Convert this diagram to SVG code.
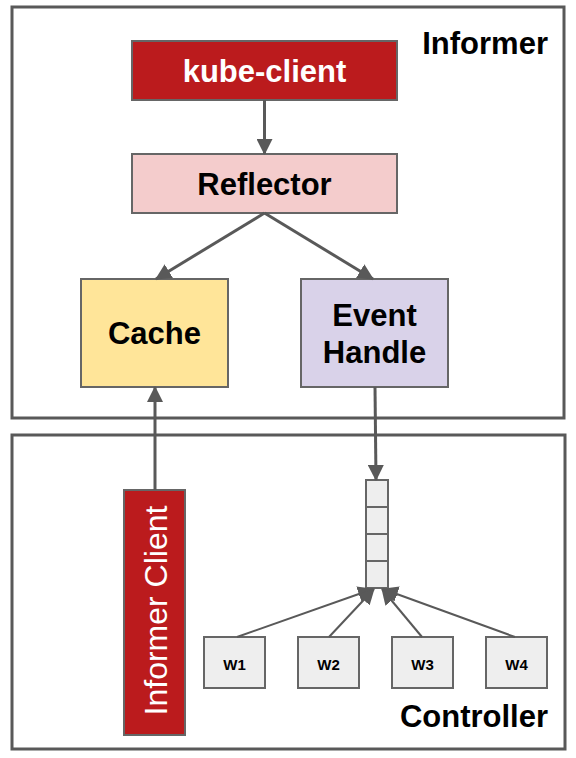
<svg xmlns="http://www.w3.org/2000/svg" width="576" height="758" viewBox="0 0 576 758">
<style>
.frame{fill:#ffffff;stroke:#595959;stroke-width:3}
.box{stroke:#666666;stroke-width:2}
.t{font-family:"Liberation Sans",Arial,sans-serif;font-weight:bold;fill:#000;text-anchor:middle}
.big{font-size:31px}
.small{font-size:15px}
.conn{stroke:#595959;stroke-width:3;fill:none}
.thin{stroke:#595959;stroke-width:2;fill:none}
</style>
<defs>
<marker id="ah" markerUnits="userSpaceOnUse" markerWidth="16" markerHeight="16" refX="15" refY="8" orient="auto">
<path d="M0,0 L16,8 L0,16 z" fill="#595959"/>
</marker>
<marker id="ahs" markerUnits="userSpaceOnUse" markerWidth="16" markerHeight="16" refX="15" refY="8" orient="auto">
<path d="M0,0 L16,8 L0,16 z" fill="#595959"/>
</marker>
</defs>
<g id="informer">
<rect class="frame" x="12" y="7" width="552" height="411"/>
<text class="t big" x="548" y="54" style="text-anchor:end">Informer</text>
</g>
<g id="controller">
<rect class="frame" x="12" y="435" width="553" height="314"/>
<text class="t big" x="548" y="727" style="text-anchor:end">Controller</text>
</g>
<g id="kube-client">
<rect class="box" x="132" y="41" width="265" height="59" fill="#bb1b1d"/>
<text class="t big" x="264.5" y="82" style="fill:#ffffff">kube-client</text>
</g>
<g id="reflector">
<rect class="box" x="132" y="154" width="265" height="59" fill="#f4cccc"/>
<text class="t big" x="264.5" y="195">Reflector</text>
</g>
<g id="cache">
<rect class="box" x="81" y="279" width="147" height="108" fill="#ffe599"/>
<text class="t big" x="154.5" y="344">Cache</text>
</g>
<g id="event-handle">
<rect class="box" x="301" y="279" width="147" height="108" fill="#d9d2e9"/>
<text class="t big" x="374.5" y="326">Event</text>
<text class="t big" x="374.5" y="363">Handle</text>
</g>
<g id="informer-client">
<rect class="box" x="124" y="490" width="61" height="245" fill="#bb1b1d"/>
<text x="0" y="0" transform="translate(166.5,610.5) rotate(-90)" style="font-family:'Liberation Sans',Arial,sans-serif;font-size:32px;fill:#ffffff;text-anchor:middle">Informer Client</text>
</g>
<g id="queue">
<rect class="box" x="366" y="480" width="22" height="27" fill="#eeeeee"/>
<rect class="box" x="366" y="507" width="22" height="27" fill="#eeeeee"/>
<rect class="box" x="366" y="534" width="22" height="27" fill="#eeeeee"/>
<rect class="box" x="366" y="561" width="22" height="27" fill="#eeeeee"/>
</g>
<g id="w1">
<rect class="box" x="204" y="637" width="61" height="51" fill="#eeeeee"/>
<text class="t small" x="234.5" y="670">W1</text>
</g>
<g id="w2">
<rect class="box" x="298" y="637" width="61" height="51" fill="#eeeeee"/>
<text class="t small" x="328.5" y="670">W2</text>
</g>
<g id="w3">
<rect class="box" x="392" y="637" width="61" height="51" fill="#eeeeee"/>
<text class="t small" x="422.5" y="670">W3</text>
</g>
<g id="w4">
<rect class="box" x="486" y="637" width="61" height="51" fill="#eeeeee"/>
<text class="t small" x="516.5" y="670">W4</text>
</g>
<g id="connectors">
<line class="conn" x1="264.5" y1="100" x2="264.5" y2="154" marker-end="url(#ah)"/>
<line class="conn" x1="264.5" y1="213" x2="156" y2="279" marker-end="url(#ah)"/>
<line class="conn" x1="264.5" y1="213" x2="373" y2="279" marker-end="url(#ah)"/>
<line class="conn" x1="155" y1="490" x2="155" y2="387" marker-end="url(#ah)"/>
<line class="conn" x1="375" y1="387" x2="376" y2="480" marker-end="url(#ah)"/>
<line class="thin" x1="237" y1="637" x2="373" y2="589" marker-end="url(#ahs)"/>
<line class="thin" x1="329" y1="637" x2="374" y2="589" marker-end="url(#ahs)"/>
<line class="thin" x1="422" y1="637" x2="382" y2="589" marker-end="url(#ahs)"/>
<line class="thin" x1="515" y1="637" x2="383" y2="589" marker-end="url(#ahs)"/>
</g>
</svg>
